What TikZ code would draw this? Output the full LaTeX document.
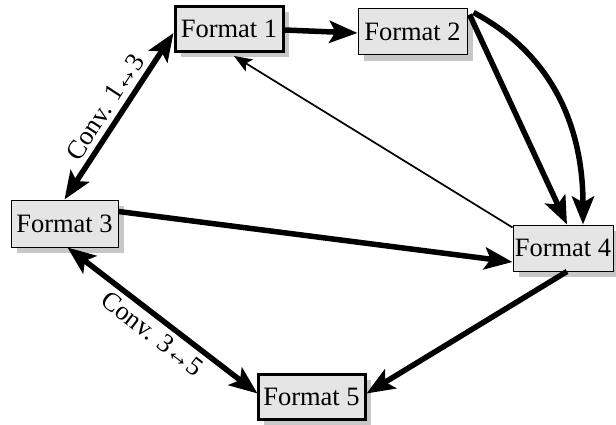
\documentclass[tikz,border=0pt]{standalone}
\usepackage{fontspec}
\setmainfont{Liberation Serif}
\usetikzlibrary{arrows.meta,shadows,calc}
\begin{document}
\begin{tikzpicture}[x=1pt,y=1pt,
  fmt/.style={draw=black, line width=1pt, fill=black!10, inner sep=0pt,
    font=\fontsize{26.5}{30}\selectfont,
    drop shadow={shadow xshift=6pt, shadow yshift=-6pt, fill=black!22, opacity=1}},
  fmtbold/.style={fmt, line width=3pt},
  tipbig/.tip={Stealth[length=28pt,width=22pt,inset=6pt]},
  big/.style={line width=5.5pt, -tipbig},
  bigboth/.style={line width=5.5pt, tipbig-tipbig},
  thin/.style={line width=1.7pt, -{Stealth[length=18pt,width=14pt,inset=4pt]}},
  lbl/.style={font=\fontsize{26.5}{30}\selectfont, inner sep=0pt}
]
\useasboundingbox (0,0) rectangle (616,-425);
\node[fmtbold, minimum width=108pt, minimum height=45pt] (F1) at (229,-29) {Format 1};
\node[fmt, minimum width=109pt, minimum height=46pt] (F2) at (412.5,-32) {Format 2};
\node[fmt, minimum width=107pt, minimum height=47pt] (F3) at (64.5,-223.5) {Format 3};
\node[fmt, minimum width=100pt, minimum height=46pt] (F4) at (563,-248) {Format 4};
\node[fmtbold, minimum width=107pt, minimum height=45pt] (F5) at (311.5,-396.5) {Format 5};

\draw[big] ([yshift=-1pt]F1.east) -- ([yshift=-1pt]F2.west);
\draw[bigboth] ([xshift=0pt]F3.north) -- ([yshift=-4pt]F1.west)
  node[lbl, midway, sloped, above=5pt] {Conv. 1\kern-1.5pt↔\kern-1.5pt3};
\draw[big] ([xshift=2pt,yshift=-6pt]F2.north east) -- ([xshift=4pt]F4.north);
\draw[big] ([xshift=6pt,yshift=-4pt]F2.north east) to[out=-28,in=90] ([xshift=20pt]F4.north);
\draw[thin] ([yshift=-3pt]F4.north west) -- ([xshift=5pt,yshift=-3pt]F1.south);
\draw[big] ([yshift=12pt]F3.east) -- ([yshift=-14pt]F4.west);
\draw[bigboth] ([xshift=3pt]F3.south) -- ([xshift=1pt,yshift=3pt]F5.west)
  node[lbl, midway, sloped, below=5pt] {Conv. 3\kern-1.5pt↔\kern-1.5pt5};
\draw[big] ([xshift=4pt]F4.south) -- ([yshift=3pt]F5.east);
\end{tikzpicture}
\end{document}
